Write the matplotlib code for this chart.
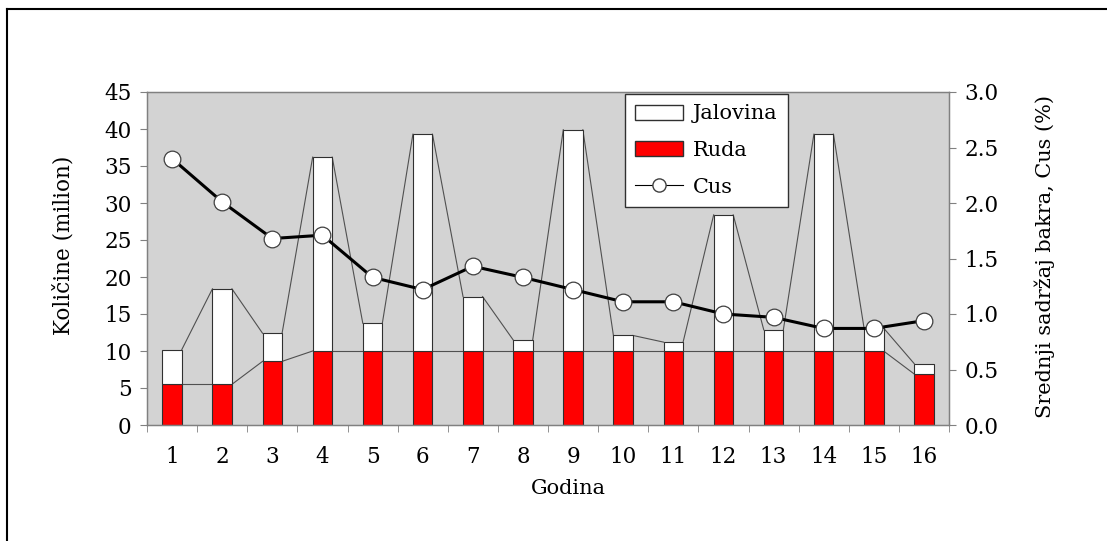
import matplotlib
matplotlib.use("Agg")
import matplotlib.pyplot as plt
import numpy as np
from matplotlib.patches import Patch
from matplotlib.lines import Line2D

# ----------------------------------------------------------
# Data
# ----------------------------------------------------------
godina = [str(i) for i in range(1, 17)]
ruda = [5.5, 5.5, 8.6, 10, 10, 10, 10, 10, 10, 10, 10, 10, 10, 10, 10, 6.9]
ukupno = [10.2, 18.4, 12.4, 36.2, 13.75, 39.3, 17.35, 11.5,
          39.9, 12.1, 11.2, 28.4, 12.85, 39.3, 13.1, 8.3]
jalovina = [u - r for u, r in zip(ukupno, ruda)]
cus = [2.40, 2.01, 1.68, 1.71, 1.33, 1.22, 1.43, 1.33,
       1.22, 1.11, 1.11, 1.00, 0.97, 0.87, 0.87, 0.94]

plt.rcParams['font.family'] = ['DejaVu Serif']
FS_TICK = 15.5
FS_LAB = 15.5
AXIS_GRAY = '#808080'

fig = plt.figure(figsize=(11.07, 5.41), dpi=100)
ax = fig.add_axes([147 / 1107, 1 - 425 / 541, 802 / 1107, 333 / 541])
ax.set_facecolor('#d3d3d3')

x = np.arange(len(godina))
w = 0.39

# series lines between the stacked bar tops
for level in (ruda, ukupno):
    for i in range(len(x) - 1):
        ax.plot([x[i] + w / 2, x[i + 1] - w / 2], [level[i], level[i + 1]],
                color='#505050', lw=0.8, zorder=1)

ax.bar(x, ruda, width=w, color='#ff0000', edgecolor='#303030', linewidth=0.8, zorder=2)
ax.bar(x, jalovina, width=w, bottom=ruda, color='white', edgecolor='#303030',
       linewidth=0.8, zorder=2)

ax.set_xlim(-0.5, len(x) - 0.5)
ax.set_ylim(0, 45)
ax.set_yticks(np.arange(0, 46, 5))
ax.set_xticks(x)
ax.set_xticklabels(godina)
ax.set_xticks(np.arange(-0.5, len(x), 1), minor=True)
ax.tick_params(axis='x', which='major', length=0, labelsize=FS_TICK, pad=15)
ax.tick_params(axis='x', which='minor', length=5, color=AXIS_GRAY, direction='out')
ax.tick_params(axis='y', length=5, color=AXIS_GRAY, labelsize=FS_TICK, direction='out', pad=6)
for s in ax.spines.values():
    s.set_color(AXIS_GRAY)
    s.set_linewidth(1.0)
ax.set_xlabel('Godina', fontsize=15)
ax.xaxis.set_label_coords(0.526, -0.163)
ax.set_ylabel('Količine (milion)', fontsize=FS_LAB)
ax.yaxis.set_label_coords(-0.091, 0.54)

# right axis: copper content
ax2 = ax.twinx()
ax2.plot(x, cus, color='black', lw=2.2, marker='o', markersize=12,
         markerfacecolor='white', markeredgecolor='#404040', markeredgewidth=0.9, zorder=3)
ax2.set_ylim(0, 3.0)
ax2.set_yticks(np.arange(0, 3.01, 0.5))
ax2.set_yticklabels([f'{v:.1f}' for v in np.arange(0, 3.01, 0.5)])
ax2.tick_params(axis='y', length=5, color=AXIS_GRAY, labelsize=FS_TICK, direction='out', pad=6)
for s in ax2.spines.values():
    s.set_color(AXIS_GRAY)
ax2.set_ylabel('Srednji sadržaj bakra, Cus (%)', fontsize=15)
ax2.yaxis.set_label_coords(1.106, 0.505)

# legend
handles = [
    Patch(facecolor='white', edgecolor='#303030', label='Jalovina'),
    Patch(facecolor='#ff0000', edgecolor='#303030', label='Ruda'),
    Line2D([], [], color='black', lw=0.8, marker='o', markersize=9.5,
           markerfacecolor='white', markeredgecolor='#404040', label='Cus'),
]
leg = ax2.legend(handles=handles, loc='upper left', bbox_to_anchor=(0.596, 0.994),
                 fontsize=15, frameon=True, fancybox=False, framealpha=1,
                 edgecolor='#303030', borderpad=0.5, labelspacing=0.85,
                 handlelength=2.3, handleheight=0.75, handletextpad=0.45,
                 borderaxespad=0)
leg.get_frame().set_linewidth(1.0)

# outer frame (top and left edge of the screenshot)
fig.add_artist(Line2D([7 / 1107, 1], [1 - 9.3 / 541, 1 - 9.3 / 541],
                      color='black', lw=1.5, transform=fig.transFigure))
fig.add_artist(Line2D([7 / 1107, 7 / 1107], [0, 1 - 9.3 / 541],
                      color='black', lw=1.5, transform=fig.transFigure))

fig.savefig('out.png', dpi=100)
